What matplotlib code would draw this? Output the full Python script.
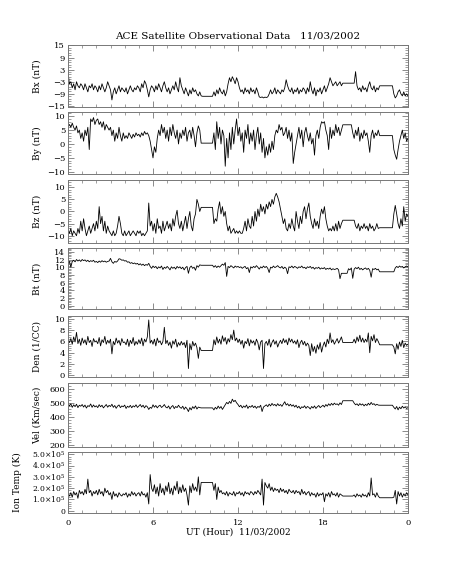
import numpy as np
import matplotlib.pyplot as plt
from matplotlib.ticker import AutoMinorLocator, FixedLocator, MultipleLocator

plt.rcParams['font.family'] = ['DejaVu Serif']
plt.rcParams['mathtext.fontset'] = 'dejavuserif'

# values every 0.1 hour, one row per hour
bx = [1.5, -4, -3, -6, -4, -7, -3, -5, -6, -4,
      -5, -7, -4, -6, -8, -5, -6, -4, -7, -5,
      -6, -8, -5, -7, -4, -6, -8, -6, -3, -5,
      -7, -12, -8, -6, -9, -7, -5, -8, -6, -7,
      -8, -6, -9, -7, -5, -7, -8, -6, -7, -5,
      -6, -8, -4, -6, -2.5, -4, -7, -10.5, -7, -5,
      -6, -8, -5, -7, -4, -6, -8, -5, -3, -6,
      -8, -6, -9, -7, -5, -7, -3, -6, -8, -1,
      -5, -7, -9, -6, -8, -10, -7, -9, -6, -8,
      -7, -9, -10, -8, -10, -10.2, -10.2, -10.2, -10.2, -10.2,
      -10.2, -10.2, -10.2, -8, -10, -7, -9, -6, -8, -9,
      -7, -10, -8, -4, -1, -3, -0.5, -2, -4, -1,
      -3, -6, -8, -7, -9, -6, -8, -7, -9, -6,
      -8, -7, -9, -6, -8, -10.5, -10.8, -10.5, -11, -10.6,
      -10.8, -10.5, -9, -7, -9, -8, -6, -9, -7, -8,
      -9, -7, -8, -6, -2, -5, -7, -8, -6, -9,
      -7, -8, -6, -9, -7, -8, -6, -7, -9, -6,
      -8, -3, -7, -9, -6, -10, -7, -8, -6, -9,
      -7, -5, -8, -6, -4, -1, -3, -5, -4, -3,
      -5, -4, -3, -5, -3.7, -3.7, -3.7, -3.7, -3.7, -3.7,
      -3.7, -3.7, -3.7, 2.0, -5, -7, -6, -8, -5, -7,
      -6, -8, -5, -3, -6, -7, -5, -8, -6, -7,
      -5, -5, -5, -5, -5, -5, -5, -5, -5, -5,
      -9, -11, -10, -8, -7, -9, -10, -8, -10, -9,
      -10]

by = [6.5, 7, 6, 7.5, 6, 5, 6.5, 4, 5, 2,
      4, 1, 5, 3, 6, -2, 9, 8, 9.5, 7,
      8.5, 9, 7, 8, 6, 8, 5, 7, 6, 5,
      6, 3, 5, 1, 4, 2, 6, 3, 1, 4,
      2, 3, 2, 4, 3, 2, 3.5, 2.5, 4, 3,
      3.5, 2.5, 4, 3, 4.5, 3.5, 4, 3, 1, -2,
      -5, -1, -3, 2, 5, 3, 7, 4, 6, 2,
      5, 1, 6, 3, 7, 4, 2, 5, 0, 4,
      2, 5, 3, 6, 1, 4, 5, 2, 6, 3,
      -1, 4, 6.5, 5, 0.3, 0.3, 0.3, 0.3, 0.3, 0.3,
      0.3, 0.3, 0.3, 4, -2, 8, 2, 6, 0, 5,
      3, -8, 2, -5, 4, -2, 6, 0, 5, 9,
      3, 6, 1, 4, -3, 5, 2, 7, 0, 4,
      1, 5, -2, 3, 6, 0, 4, -3, 2, -5,
      -1, -4, 0, -3, 1, -2, 3, 5, 4, 7,
      5, 6, 3, 4, 6, 2, 5, 1, 4, -7,
      -3, 0, 3, 6, 2, 5, -1, 4, 6, 3,
      1, 4, 0, 2, -4, 3, 5, 2, 6, 8,
      7.5, 8, 5, 3, -2, 6, 2, 5, 3, 7,
      4, 6, 3, 5, 6.9, 6.9, 6.9, 6.9, 6.9, 6.9,
      6.9, 4, 2, 5, 3, 6, 1, 4, 2, 5,
      3, 4, 1, -3, 3, 5, 2, 4, 3, 5,
      3, 3, 3, 3, 3, 3, 3, 3, 3, 3,
      -2, -4, -5.5, -2, 1, 3, 5, 2, 4, 1,
      2]

bz = [-8, -9, -7, -10, -8, -9, -10, -7, -9, -4,
      -8, -3, -7, -10, -8, -6, -9, -7, -5, -8,
      -4, -7, 2, -5, -2, -8, -4, -9, -6, -8,
      -9, -10, -8, -10, -9, -6, -2, -5, -9, -10,
      -8, -10, -9, -8, -10, -9, -8, -9, -10, -8,
      -9, -8, -10, -9, -10, -9, -8, 3.5, -6, -4,
      -8, -5, -9, -3, -7, -6, -9, -4, -8, -6,
      -4, -7, -5, -8, -3, -6, -2, 0.5, -5, -7,
      -4, -8, -5, -2, -7, -3, 0, -6, -8, -3,
      -1, 5, 3, 0, 1.7, 1.7, 1.7, 1.7, 1.7, 1.7,
      1.7, 1.7, 1.7, -5, -3, -4, 1, 4, -1, 2,
      -2, 0, -5, -8, -6, -9, -8, -7, -9, -8,
      -9, -8, -9, -9, -7, -4, -8, -3, -6, -7,
      -2, -6, 0, -4, 1, -2, 3, 0, 2, -1,
      3, 1, 4, 2, 5, 3, 6, 7.5, 6, 4,
      1, -2, -5, -3, -7, -8, -5, -7, -3, -6,
      -8, 0, -4, -7, -2, -5, 0, 2, -3, 1,
      3.5, -2, -5, -7, -3, -6, -4, -7, -2, 1,
      -1, 2, -3, -6, -8, -7, -8, -6, -8, -5,
      -8, -4, -7, -5, -3.6, -3.6, -3.6, -3.6, -3.6, -3.6,
      -3.6, -3.6, -3.6, -6, -7, -5, -8, -6, -7, -5,
      -7, -6, -8, -5, -7, -6, -8, -7, -5, -7,
      -6.7, -6.7, -6.7, -6.7, -6.7, -6.7, -6.7, -6.7, -6.7, -6.7,
      -1, 2.5, -1, -5, -7, -3, -6, 2, -4, -1,
      -2]

bt = [11, 11.5, 10, 11.5, 11.8, 11.4, 12, 11.6, 11.9, 11.5,
      12, 11.7, 11.9, 11.5, 11.8, 11.4, 11.7, 11.5, 11.8, 11.3,
      11.5, 11.2, 11.6, 11.3, 11.7, 11.4, 11.6, 11.3, 11.5, 11.6,
      12.3, 11.4, 11.0, 11.5, 11.3, 11.6, 12.2, 12.1, 11.8, 11.9,
      11.6, 11.7, 11.3, 11.4, 11.0, 11.2, 10.9, 11.1, 10.8, 11.0,
      10.6, 10.9, 10.5, 10.8, 10.4, 10.7, 10.5, 11.0, 10.2, 9.7,
      10.3, 9.9, 10.2, 9.6, 10.1, 9.8, 10.3, 9.4, 10.0, 9.7,
      10.2, 9.8, 9.3, 10.1, 9.7, 10.0, 9.5, 10.2, 9.8, 10.1,
      9.6, 10.0, 9.3, 9.9, 10.2, 8.4, 9.9, 10.3, 9.7, 10.0,
      9.2, 10.4, 10.0, 10.6, 10.5, 10.5, 10.5, 10.5, 10.5, 10.5,
      10.5, 10.5, 10.5, 10.0, 10.4, 9.9, 10.3, 10.0, 10.4, 10.8,
      10.5, 11.2, 7.6, 10.2, 9.9, 10.4, 10.1, 9.8, 10.3, 10.0,
      10.2, 9.9, 10.1, 9.7, 10.0, 10.2, 9.6, 9.9, 8.6, 10.1,
      9.8, 10.2, 9.9, 10.4, 10.0, 9.5, 10.1, 9.8, 10.3, 9.9,
      10.2, 9.7, 8.6, 10.0, 9.8, 10.3, 9.9, 10.1, 10.4, 10.0,
      9.8, 10.2, 9.6, 10.0, 9.7, 8.3, 10.1, 9.9, 10.3, 9.8,
      10.2, 10.0, 9.7, 10.1, 9.9, 10.3, 9.8, 10.0, 9.6, 10.1,
      9.9, 10.2, 9.7, 10.0, 9.5, 9.9, 9.7, 10.0, 9.5, 9.8,
      9.6, 9.9, 9.4, 9.7, 9.5, 9.8, 9.3, 9.6, 9.4, 9.5,
      9.7, 9.3, 7.0, 8.4, 8.4, 8.4, 8.4, 8.4, 9.6, 9.3,
      9.8, 7.1, 9.5, 9.9, 9.6, 10.0, 9.4, 9.7, 9.3, 9.6,
      9.8, 9.4, 9.7, 9.2, 7.4, 9.6, 9.4, 9.7, 9.3, 9.5,
      8.8, 8.8, 8.8, 8.8, 8.8, 8.8, 8.8, 8.8, 8.8, 8.8,
      8.8, 9.8, 10.2, 9.9, 10.3, 10.0, 10.2, 9.8, 10.1, 10.3,
      10.1]

den = [6.2, 5.8, 6.5, 5.5, 6.8, 5.9, 7.6, 5.6, 6.4, 5.3,
       6.6, 5.7, 6.3, 5.4, 6.9, 5.8, 6.2, 5.1, 6.5, 5.9,
       6.1, 5.6, 6.7, 5.2, 6.3, 5.8, 6.9, 5.5, 6.2, 5.7,
       6.4, 3.8, 6.0, 5.4, 6.6, 5.7, 6.2, 5.3, 6.5, 5.8,
       5.9, 5.4, 6.4, 5.1, 6.2, 5.6, 6.7, 5.3, 6.0, 5.5,
       6.3, 5.6, 6.6, 5.2, 6.4, 5.9, 6.8, 9.8, 5.7, 6.2,
       5.5, 6.4, 5.2, 6.6, 5.8, 6.1, 5.4, 6.0, 8.5, 5.6,
       6.2, 5.3, 5.9, 4.8, 6.1, 5.5, 6.4, 5.0, 5.8, 5.3,
       6.0, 5.4, 5.8, 4.9, 6.2, 1.2, 5.6, 4.5, 6.0, 5.2,
       5.7, 4.9, 3.0, 5.0, 4.4, 4.4, 4.4, 4.4, 4.4, 4.4,
       4.4, 4.4, 4.4, 6.3, 5.4, 6.8, 5.7, 6.4, 5.5, 7.0,
       6.0, 6.7, 5.5, 6.5, 5.9, 7.2, 6.3, 8.0, 6.1, 6.6,
       5.8, 6.4, 5.5, 6.2, 4.8, 6.0, 5.6, 6.5, 5.2, 6.3,
       5.7, 6.1, 5.3, 6.4, 5.8, 4.5, 5.9, 6.2, 1.2, 5.6,
       6.0, 5.3, 6.4, 5.0, 5.8, 6.3, 5.5, 6.1, 5.0, 5.7,
       6.2, 5.6, 6.5, 5.8, 6.3, 5.4, 6.6, 5.9, 6.4, 5.7,
       6.1, 5.5, 6.3, 4.9, 5.8, 6.2, 5.4, 6.0, 5.2, 5.7,
       5.3, 3.5, 5.6, 4.2, 5.1, 3.9, 5.4, 4.6, 5.8, 4.1,
       5.2, 5.9, 5.0, 6.4, 5.6, 7.5, 5.8, 6.3, 5.5, 6.0,
       6.5, 5.7, 6.2, 6.8, 5.8, 5.8, 5.8, 5.8, 5.8, 5.8,
       5.8, 5.8, 6.4, 5.7, 6.8, 6.0, 7.1, 5.9, 6.6, 5.8,
       6.4, 5.9, 7.5, 4.0, 6.9, 6.1, 7.2, 5.8, 6.5, 6.0,
       5.4, 5.4, 5.4, 5.4, 5.4, 5.4, 5.4, 5.4, 5.4, 5.4,
       5.0, 3.8, 5.6, 4.6, 5.9, 5.1, 6.2, 4.9, 5.7, 5.3,
       5.5]

vel = [500, 480, 495, 470, 488, 475, 492, 468, 485, 478,
       490, 472, 486, 465, 482, 476, 494, 470, 487, 473,
       481, 468, 489, 474, 485, 466, 478, 490, 471, 484,
       476, 492, 470, 483, 463, 479, 487, 468, 480, 474,
       486, 462, 478, 470, 484, 467, 481, 473, 488, 469,
       479, 490, 472, 485, 466, 482, 474, 455, 470, 463,
       488, 471, 483, 466, 479, 485, 469, 477, 490, 472,
       466, 480, 458, 474, 483, 461, 476, 468, 485, 470,
       463, 478, 455, 472, 460, 440, 468, 452, 475, 462,
       480, 458, 472, 468, 466, 466, 466, 466, 466, 466,
       466, 466, 466, 452, 470, 458, 479, 463, 476, 455,
       472, 490, 505, 495, 512, 498, 528, 510, 520, 502,
       490, 474, 485, 466, 480, 470, 487, 462, 478, 471,
       484, 468, 479, 463, 476, 470, 485, 440, 472, 480,
       488, 475, 493, 480, 498, 484, 491, 479, 496, 482,
       490, 477, 494, 510, 486, 496, 480, 492, 478, 488,
       472, 485, 466, 478, 460, 474, 468, 481, 463, 476,
       470, 458, 476, 465, 480, 462, 474, 483, 468, 477,
       485, 472, 490, 478, 495, 483, 498, 486, 500, 490,
       495, 485, 502, 490, 517, 517, 517, 517, 517, 517,
       517, 517, 500, 488, 495, 482, 497, 486, 494, 480,
       492, 483, 499, 487, 505, 490, 496, 484, 492, 486,
       485, 485, 485, 485, 485, 485, 485, 485, 485, 485,
       470, 458, 476, 452, 472, 460, 478, 465, 474, 462,
       468]

# ion temperature in units of 1e5 K
temp = [1.5, 1.3, 1.6, 1.2, 1.7, 1.4, 1.6, 1.1, 1.8, 1.5,
        1.7, 1.4, 1.9, 1.5, 2.8, 1.6, 1.8, 1.3, 1.7, 1.5,
        1.8, 1.4, 1.9, 1.5, 1.7, 1.3, 2.0, 1.6, 1.8, 1.4,
        1.6, 1.0, 1.7, 1.3, 1.5, 1.2, 1.6, 1.4, 1.3, 1.5,
        1.4, 1.6, 1.2, 1.5, 1.3, 1.7, 1.4, 1.6, 1.3, 1.5,
        1.6, 1.3, 1.7, 1.4, 1.5, 1.2, 1.6, 0.6, 3.2, 2.0,
        1.7, 2.3, 1.5, 2.1, 1.3, 2.4, 1.6, 2.0, 1.4, 2.2,
        1.7, 2.5, 1.5, 2.0, 1.4, 2.2, 1.8, 2.6, 1.5, 2.1,
        1.6, 2.3, 1.7, 2.0, 1.4, 0.5, 2.2, 1.6, 2.4, 1.8,
        2.1, 1.7, 3.0, 1.4, 2.5, 2.5, 2.5, 2.5, 2.5, 2.5,
        2.5, 2.5, 2.5, 1.8, 2.4, 1.0, 2.1, 1.6, 1.8, 1.5,
        1.6, 1.4, 1.7, 1.3, 1.6, 1.5, 1.4, 1.7, 1.3, 1.6,
        1.5, 1.7, 1.4, 1.6, 1.3, 1.7, 1.5, 1.6, 1.4, 1.7,
        1.6, 1.4, 1.7, 1.5, 1.8, 1.6, 1.4, 2.8, 0.5, 2.5,
        2.2, 2.0, 2.4, 1.8, 2.1, 1.7, 2.0, 1.8, 1.9, 1.6,
        2.0, 1.7, 1.9, 1.6, 1.8, 1.5, 1.9, 1.7, 1.6, 1.8,
        1.5, 1.8, 1.6, 1.7, 1.4, 1.9, 1.5, 1.7, 1.4, 1.6,
        1.7, 1.3, 1.6, 1.4, 1.5, 1.2, 1.6, 1.3, 1.5, 1.4,
        1.6, 0.8, 1.5, 1.3, 1.6, 1.2, 1.7, 1.4, 1.5, 1.3,
        1.6, 1.2, 1.5, 1.4, 1.3, 1.3, 1.3, 1.3, 1.3, 1.3,
        1.3, 1.3, 1.4, 1.2, 1.5, 1.3, 1.4, 1.2, 1.5, 1.3,
        1.4, 1.2, 1.6, 1.3, 2.9, 1.4, 1.5, 1.2, 1.6, 1.3,
        1.15, 1.15, 1.15, 1.15, 1.15, 1.15, 1.15, 1.15, 1.15, 1.15,
        1.2, 1.8, 0.6, 1.7, 1.3, 1.6, 1.2, 1.5, 1.3, 1.6,
        1.4]

labels = ['Bx (nT)', 'By (nT)', 'Bz (nT)', 'Bt (nT)', 'Den (1/CC)',
          'Vel (Km/sec)', 'Ion Temp (K)']
ylims = [(-15.5, 15.2), (-10.8, 11.5), (-13, 13), (-0.9, 15),
         (-0.3, 10.5), (188, 643), (-0.2e5, 5.2e5)]
yticks = [[-15, -9, -3, 3, 9, 15], [-10, -5, 0, 5, 10], [-10, -5, 0, 5, 10],
          [0, 2, 4, 6, 8, 10, 12, 14], [0, 2, 4, 6, 8, 10],
          [200, 300, 400, 500, 600], [0, 1e5, 2e5, 3e5, 4e5, 5e5]]
temp_ticklabels = ['0', r'$1.0{\times}10^5$', r'$2.0{\times}10^5$', r'$3.0{\times}10^5$',
                   r'$4.0{\times}10^5$', r'$5.0{\times}10^5$']
xticks = [0, 6, 12, 18, 24]
xticklabels = ['0', '6', '12', '18', '0']

series = [bx, by, bz, bt, den, vel, [t * 1e5 for t in temp]]
# panel (top, bottom) in pixels
panels = [(45, 107), (112, 174), (180, 243), (248, 309),
          (316, 377), (383, 447), (452, 513)]

W, H = 453, 566
fig = plt.figure(figsize=(W / 100, H / 100), dpi=100)
fig.text(238 / W, 1 - 36 / H, 'ACE Satellite Observational Data   11/03/2002',
         ha='center', va='center', fontsize=7.5)

frame_col = '#777777'
for i, (vals, (t, b)) in enumerate(zip(series, panels)):
    ax = fig.add_axes([68 / W, 1 - b / H, 340 / W, (b - t) / H])
    hrs = np.arange(len(vals)) / 10.0
    ax.plot(hrs, vals, color='black', lw=0.6)
    ax.set_xlim(0, 24)
    ax.set_ylim(*ylims[i])
    ax.yaxis.set_major_locator(FixedLocator(yticks[i]))
    ax.yaxis.set_minor_locator(AutoMinorLocator(5))
    ax.xaxis.set_major_locator(FixedLocator(xticks))
    ax.xaxis.set_minor_locator(MultipleLocator(1))
    ax.tick_params(which='both', direction='in', top=True, right=True,
                   labelsize=6, color=frame_col, pad=2)
    ax.tick_params(which='major', length=4, width=0.6)
    ax.tick_params(which='minor', length=2, width=0.5)
    for s in ax.spines.values():
        s.set_color(frame_col)
        s.set_linewidth(0.7)
    if i == 6:
        ax.set_yticklabels(temp_ticklabels, fontsize=5.5)
        ax.set_xticklabels(xticklabels)
        ax.tick_params(axis='x', pad=4)
        ax.set_xlabel('UT (Hour)  11/03/2002', fontsize=6.5, labelpad=1)
        ax.yaxis.set_label_coords(-0.135, 0.5)
    else:
        ax.set_xticklabels([])
        ax.yaxis.set_label_coords(-0.077, 0.5)
    ax.set_ylabel(labels[i], fontsize=6.5)

fig.savefig('out.png', dpi=100)
